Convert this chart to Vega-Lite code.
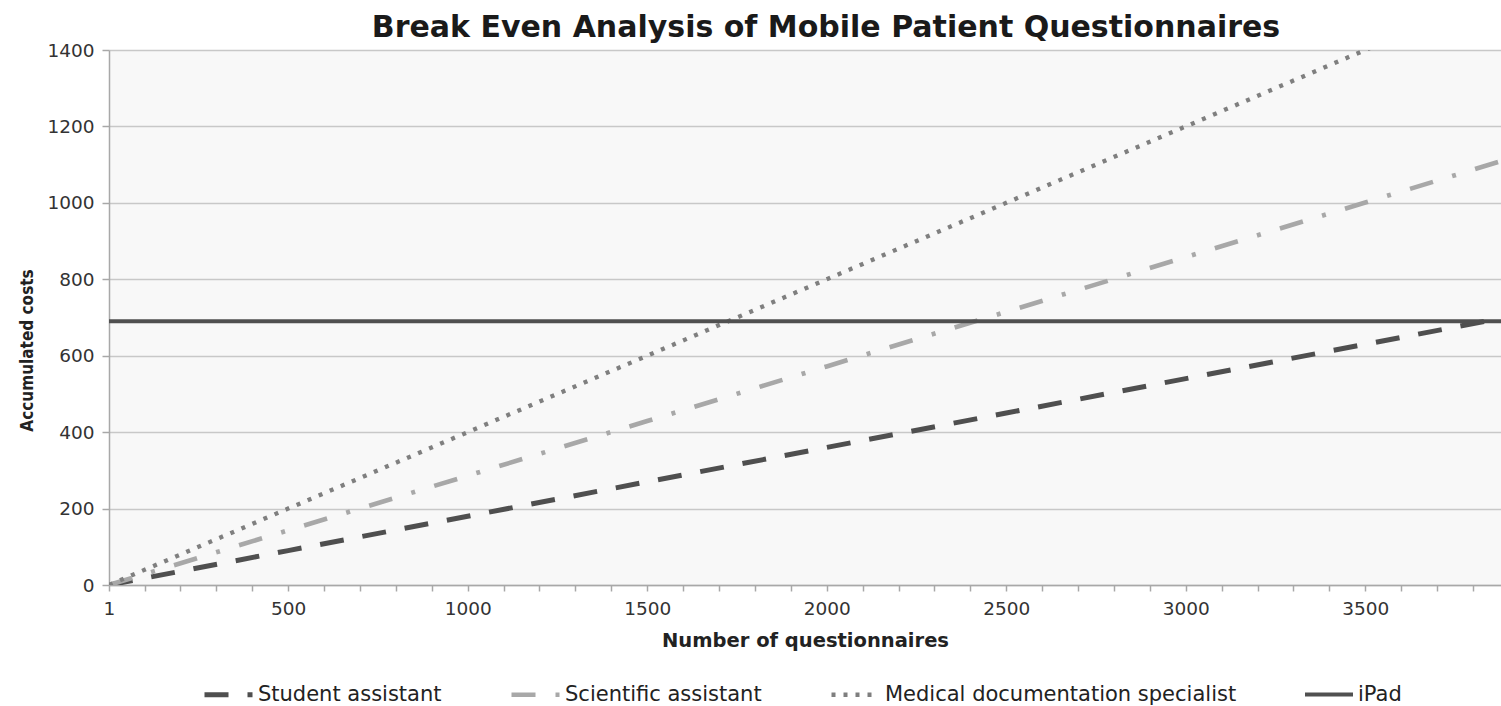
{
  "$schema": "https://vega.github.io/schema/vega-lite/v6.json",
  "width": 1392,
  "height": 535,
  "autosize": {"type": "none"},
  "padding": {"left": 109, "top": 50, "right": 0, "bottom": 121},
  "background": "white",
  "config": {
    "view": {"fill": "#f8f8f8", "stroke": null},
    "axis": {
      "gridColor": "#c8c8c8",
      "gridWidth": 1.5,
      "domainColor": "#a8a8a8",
      "domainWidth": 1.5,
      "tickColor": "#a8a8a8",
      "tickWidth": 1.5,
      "labelFont": "DejaVu Sans",
      "labelFontSize": 18.5,
      "labelColor": "#333333",
      "titleFont": "DejaVu Sans",
      "titleColor": "#222222"
    }
  },
  "title": {
    "text": "Break Even Analysis of Mobile Patient Questionnaires",
    "font": "DejaVu Sans",
    "fontSize": 30,
    "fontWeight": "bold",
    "color": "#1a1a1a",
    "anchor": "middle",
    "frame": "group",
    "dx": 21,
    "dy": 2,
    "offset": 0
  },
  "data": {
    "values": [
      {"n": 1, "cost": 0, "series": "Student assistant"},
      {"n": 500, "cost": 90, "series": "Student assistant"},
      {"n": 1000, "cost": 180, "series": "Student assistant"},
      {"n": 1500, "cost": 270, "series": "Student assistant"},
      {"n": 2000, "cost": 360, "series": "Student assistant"},
      {"n": 2500, "cost": 450, "series": "Student assistant"},
      {"n": 3000, "cost": 540, "series": "Student assistant"},
      {"n": 3500, "cost": 630, "series": "Student assistant"},
      {"n": 3878, "cost": 698, "series": "Student assistant"},
      {"n": 1, "cost": 0, "series": "Scientific assistant"},
      {"n": 500, "cost": 143, "series": "Scientific assistant"},
      {"n": 1000, "cost": 286, "series": "Scientific assistant"},
      {"n": 1500, "cost": 429, "series": "Scientific assistant"},
      {"n": 2000, "cost": 572, "series": "Scientific assistant"},
      {"n": 2500, "cost": 715, "series": "Scientific assistant"},
      {"n": 3000, "cost": 858, "series": "Scientific assistant"},
      {"n": 3500, "cost": 1001, "series": "Scientific assistant"},
      {"n": 3878, "cost": 1109, "series": "Scientific assistant"},
      {"n": 1, "cost": 0, "series": "Medical documentation specialist"},
      {"n": 500, "cost": 200, "series": "Medical documentation specialist"},
      {"n": 1000, "cost": 400, "series": "Medical documentation specialist"},
      {"n": 1500, "cost": 600, "series": "Medical documentation specialist"},
      {"n": 2000, "cost": 800, "series": "Medical documentation specialist"},
      {"n": 2500, "cost": 1000, "series": "Medical documentation specialist"},
      {"n": 3000, "cost": 1200, "series": "Medical documentation specialist"},
      {"n": 3500, "cost": 1400, "series": "Medical documentation specialist"},
      {"n": 3878, "cost": 1551, "series": "Medical documentation specialist"},
      {"n": 1, "cost": 690, "series": "iPad"},
      {"n": 3878, "cost": 690, "series": "iPad"}
    ]
  },
  "mark": {"type": "line", "clip": true, "strokeCap": "butt"},
  "encoding": {
    "x": {
      "field": "n",
      "type": "quantitative",
      "scale": {"domain": [1, 3878], "nice": false, "zero": false},
      "axis": {
        "title": "Number of questionnaires",
        "titleFontSize": 19.5,
        "titleFontWeight": "bold",
        "titlePadding": 14,
        "values": [1, 100, 200, 300, 400, 500, 600, 700, 800, 900, 1000, 1100, 1200, 1300, 1400, 1500, 1600, 1700, 1800, 1900, 2000, 2100, 2200, 2300, 2400, 2500, 2600, 2700, 2800, 2900, 3000, 3100, 3200, 3300, 3400, 3500, 3600, 3700, 3800],
        "format": "d",
        "labelExpr": "(datum.value % 500 == 0 || datum.value == 1) ? datum.label : ''",
        "labelOverlap": false,
        "labelFlush": false,
        "labelPadding": 8,
        "tickSize": 6,
        "grid": false
      }
    },
    "y": {
      "field": "cost",
      "type": "quantitative",
      "scale": {"domain": [0, 1400], "nice": false},
      "axis": {
        "title": "Accumulated costs",
        "titleFont": "DejaVu Sans Condensed",
        "titleFontSize": 17,
        "titleFontWeight": "bold",
        "titleBaseline": "middle",
        "titleX": -82,
        "titleY": 300,
        "values": [0, 200, 400, 600, 800, 1000, 1200, 1400],
        "format": "d",
        "tickSize": 7,
        "labelPadding": 8,
        "grid": true
      }
    },
    "stroke": {
      "field": "series",
      "type": "nominal",
      "scale": {
        "domain": ["Student assistant", "Scientific assistant", "Medical documentation specialist", "iPad"],
        "range": ["#4f4f4f", "#a8a8a8", "#7f7f7f", "#505050"]
      },
      "legend": {
        "title": null,
        "orient": "none",
        "legendX": 93,
        "legendY": 618,
        "direction": "horizontal",
        "symbolType": "stroke",
        "symbolSize": 2304,
        "symbolStrokeWidth": 4,
        "labelFont": "DejaVu Sans",
        "labelFontSize": 21,
        "labelLimit": 0,
        "labelColor": "#222222",
        "labelOffset": 3,
        "columnPadding": 60
      }
    },
    "strokeDash": {
      "field": "series",
      "type": "nominal",
      "scale": {
        "domain": ["Student assistant", "Scientific assistant", "Medical documentation specialist", "iPad"],
        "range": [[24, 19], [24, 20, 4, 20], [4, 8], [1, 0]]
      }
    },
    "strokeWidth": {
      "field": "series",
      "type": "nominal",
      "scale": {
        "domain": ["Student assistant", "Scientific assistant", "Medical documentation specialist", "iPad"],
        "range": [5, 4, 4.5, 4]
      }
    }
  }
}
